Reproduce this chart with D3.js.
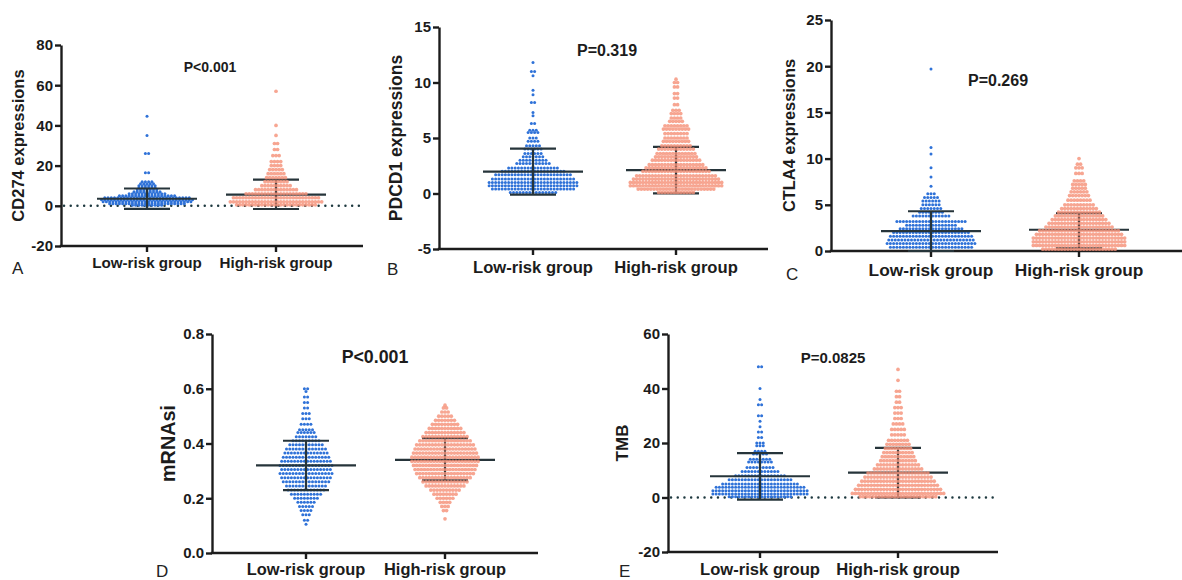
<!DOCTYPE html>
<html>
<head>
<meta charset="utf-8">
<script src="https://cdn.jsdelivr.net/npm/d3@7"></script>
<style>
  body { margin: 0; background: #fff; }
  svg { display: block; font-family: "Liberation Sans", Arial, sans-serif; }
  .tick text { font-weight: bold; font-size: 15px; fill: #1b1b1b; }
</style>
</head>
<body>
<div id="chart"></div>
<script>
/*
DATA
each swarm row: [value, number of dots in that row]
*/
const groups = ["Low-risk group", "High-risk group"];

const cd274Low = [[44.5,1],[35,1],[26,2],[16.5,2],[12,4],[11,5],[10,6],[9,6],[8,7],[7,9],[6,12],[5,18],[4,27],[3,29],[2,28],[1,24],[0.3,10]];
const cd274High = [[57,1],[40,1],[35,1],[31,2],[28,2],[25,3],[22,4],[20,4],[18,5],[16,6],[14,7],[12,8],[10,10],[8,14],[6,20],[4,28],[2,30],[0.5,26]];
const cd274Stats = [[3.5, 8.6, -1.5], [5.6, 13, -1.6]]; // mean, mean+SD, mean-SD

const pdcd1Low = [[11.8,1],[11,2],[10.6,1],[9.3,1],[8.9,1],[8.2,2],[7.3,1],[7,1],[6.3,2],[5.7,3],[5.5,4],[5,3],[4.7,4],[4.3,5],[4,6],[3.6,6],[3.3,7],[3,9],[2.7,11],[2.3,16],[2,20],[1.7,24],[1.3,26],[1,28],[0.7,28],[0.4,26],[0.1,15]];
const pdcd1High = [[10.3,1],[10,2],[9.6,2],[9,2],[8.6,2],[8,2],[7.5,3],[7.2,4],[6.8,4],[6.5,5],[6.1,8],[5.8,9],[5.4,8],[5,8],[4.7,9],[4.3,10],[4,12],[3.6,13],[3.3,14],[3,16],[2.6,18],[2.3,20],[2,22],[1.6,26],[1.3,28],[1,30],[0.7,30],[0.4,25],[0.1,12]];
const pdcd1Stats = [[1.97, 4.05, -0.1], [2.1, 4.2, 0.02]];

const ctla4Low = [[19.7,1],[11.2,1],[10.5,1],[9,1],[8,1],[7,1],[6.2,3],[5.8,5],[5.4,6],[5,6],[4.6,7],[4.2,8],[3.8,12],[3.2,22],[2.8,16],[2.4,20],[2,24],[1.6,26],[1.2,27],[0.8,28],[0.4,26]];
const ctla4High = [[10,1],[9.4,2],[9,3],[8.4,3],[7.6,4],[7.2,5],[6.8,5],[6.4,6],[6,7],[5.5,8],[5,10],[4.6,12],[4.2,14],[3.8,16],[3.4,18],[3,20],[2.6,22],[2.2,26],[1.8,28],[1.4,30],[1,30],[0.6,30],[0.2,24]];
const ctla4Stats = [[2.15, 4.3, 0], [2.3, 4.1, 0.3]];

const mrnasiLow = [[0.6,2],[0.59,1],[0.57,2],[0.55,2],[0.53,2],[0.51,3],[0.49,3],[0.47,4],[0.45,5],[0.44,6],[0.425,7],[0.41,9],[0.395,11],[0.38,13],[0.365,14],[0.35,15],[0.335,16],[0.32,17],[0.305,16],[0.29,17],[0.275,16],[0.26,15],[0.245,13],[0.23,12],[0.215,10],[0.2,8],[0.185,6],[0.17,5],[0.155,4],[0.14,3],[0.12,2],[0.105,1]];
const mrnasiHigh = [[0.54,1],[0.53,2],[0.515,3],[0.5,5],[0.485,7],[0.47,9],[0.455,11],[0.44,13],[0.425,15],[0.41,17],[0.395,19],[0.38,20],[0.365,21],[0.35,22],[0.335,22],[0.32,21],[0.305,20],[0.29,19],[0.275,17],[0.26,15],[0.245,13],[0.23,10],[0.215,8],[0.2,6],[0.185,4],[0.17,3],[0.155,2],[0.125,1]];
const mrnasiStats = [[0.32, 0.41, 0.23], [0.34, 0.42, 0.265]];

const tmbLow = [[48,2],[40,1],[36,1],[34,2],[30,2],[28,1],[26,1],[24,2],[22,2],[20,3],[19,3],[17,4],[16,5],[14,7],[13,8],[11,9],[9.5,12],[8,16],[6.5,20],[5,24],[3.8,28],[2.5,30],[1.3,30],[0.3,20]];
const tmbHigh = [[47,1],[43,1],[39,2],[37,2],[35,2],[33,3],[31,3],[29,3],[27,4],[25,5],[23,5],[21,7],[19.5,8],[18,9],[16.5,10],[15,11],[13.5,12],[12,14],[10.5,16],[9,20],[7.5,22],[6,24],[4.5,26],[3,28],[1.5,30],[0.3,25]];
const tmbStats = [[7.8, 16.3, -0.8], [9.1, 18.2, 0]];

const ticksA = [-20, 0, 20, 40, 60, 80];
const ticksB = [-5, 0, 5, 10, 15];
const ticksC = [0, 5, 10, 15, 20, 25];
const ticksD = [0, 0.2, 0.4, 0.6, 0.8];
const ticksE = [-20, 0, 20, 40, 60];

/*
PANEL LAYOUT
*/
const intFmt = d => String(d);
const panels = [
  { letter: "A", label: "CD274 expressions", p: "P<0.001", data: [cd274Low, cd274High], stats: cd274Stats,
    ticks: ticksA, fmt: intFmt, zeroLine: true,
    ax: 61, yTop: 45, yBot: 246, xEnd: 363, centers: [147, 276],
    labelX: 18, labelSize: 16.5, pX: 210, pY: 72, pSize: 14, catSize: 15.2, catY: 268, letterX: 12, letterY: 274 },
  { letter: "B", label: "PDCD1 expressions", p: "P=0.319", data: [pdcd1Low, pdcd1High], stats: pdcd1Stats,
    ticks: ticksB, fmt: intFmt, zeroLine: false,
    ax: 439, yTop: 27, yBot: 249, xEnd: 768, centers: [533, 676],
    labelX: 396, labelSize: 17.5, pX: 607, pY: 56, pSize: 16, catSize: 16.6, catY: 273, letterX: 387, letterY: 275 },
  { letter: "C", label: "CTLA4 expressions", p: "P=0.269", data: [ctla4Low, ctla4High], stats: ctla4Stats,
    ticks: ticksC, fmt: intFmt, zeroLine: false,
    ax: 831, yTop: 20, yBot: 251, xEnd: 1182, centers: [931, 1079],
    labelX: 789, labelSize: 16.4, pX: 998, pY: 86, pSize: 16, catSize: 17.3, catY: 276, letterX: 786, letterY: 280 },
  { letter: "D", label: "mRNAsi", p: "P<0.001", data: [mrnasiLow, mrnasiHigh], stats: mrnasiStats,
    ticks: ticksD, fmt: d3.format(".1f"), zeroLine: false,
    ax: 212, yTop: 334, yBot: 553, xEnd: 538, centers: [306, 445],
    labelX: 168, labelSize: 19.8, pX: 375, pY: 363, pSize: 17.8, catSize: 16.4, catY: 575, letterX: 156, letterY: 577 },
  { letter: "E", label: "TMB", p: "P=0.0825", data: [tmbLow, tmbHigh], stats: tmbStats,
    ticks: ticksE, fmt: intFmt, zeroLine: true,
    ax: 668, yTop: 334, yBot: 552, xEnd: 998, centers: [760, 898],
    labelX: 622, labelSize: 17, pX: 833, pY: 363, pSize: 15, catSize: 16.6, catY: 575, letterX: 619, letterY: 577 }
];

const W = 1182, H = 580;
const dotR = [1.5, 1.85], dotGap = [3.25, 3.15];
const ink = "#1c1c1c", barInk = "#26343a";
const dotFill = ["#2f72d8", "#f5937a"];

const svg = d3.select("#chart").append("svg").attr("width", W).attr("height", H);

function drawPanel(cfg) {
  const g = svg.append("g");
  const y = d3.scaleLinear()
    .domain(d3.extent(cfg.ticks))
    .range([cfg.yBot, cfg.yTop]);
  const x = d3.scaleOrdinal().domain(groups).range(cfg.centers);

  // y axis
  g.append("g")
    .attr("transform", `translate(${cfg.ax},0)`)
    .call(d3.axisLeft(y).tickValues(cfg.ticks).tickFormat(cfg.fmt).tickSize(6).tickSizeOuter(0).tickPadding(2))
    .call(a => a.selectAll("path, line").attr("stroke", ink).attr("stroke-width", 2.4));

  // x axis
  g.append("line")
    .attr("x1", cfg.ax - 1.2).attr("x2", cfg.xEnd)
    .attr("y1", cfg.yBot).attr("y2", cfg.yBot)
    .attr("stroke", ink).attr("stroke-width", 2.4);
  g.selectAll(".xtick").data(groups).join("line")
    .attr("x1", d => x(d)).attr("x2", d => x(d))
    .attr("y1", cfg.yBot).attr("y2", cfg.yBot + 6)
    .attr("stroke", ink).attr("stroke-width", 2.4);
  g.selectAll(".cat").data(groups).join("text")
    .attr("x", d => x(d)).attr("y", cfg.catY)
    .attr("text-anchor", "middle")
    .attr("font-weight", "bold").attr("font-size", cfg.catSize).attr("fill", ink)
    .text(d => d);

  if (cfg.zeroLine) {
    g.append("line")
      .attr("x1", cfg.ax + 3).attr("x2", cfg.xEnd)
      .attr("y1", y(0)).attr("y2", y(0))
      .attr("stroke", "#1f3a40").attr("stroke-width", 2.4)
      .attr("stroke-linecap", "round").attr("stroke-dasharray", "0.1,6.6");
  }

  // dots + mean/SD bars
  groups.forEach((grp, gi) => {
    const cx = x(grp);
    const pts = [];
    cfg.data[gi].forEach(([v, n]) => {
      for (let i = 0; i < n; i++) pts.push({ v: v, dx: (i - (n - 1) / 2) * dotGap[gi] });
    });

    const st = cfg.stats[gi];
    const bars = g.append("g").attr("stroke", barInk).attr("stroke-width", 2.2);
    const drawBars = sel => {
      sel.append("line").attr("x1", cx - 50).attr("x2", cx + 50).attr("y1", y(st[0])).attr("y2", y(st[0]));
      sel.append("line").attr("x1", cx - 23).attr("x2", cx + 23).attr("y1", y(st[1])).attr("y2", y(st[1]));
      sel.append("line").attr("x1", cx - 23).attr("x2", cx + 23).attr("y1", y(st[2])).attr("y2", y(st[2]));
      sel.append("line").attr("x1", cx).attr("x2", cx).attr("y1", y(st[1])).attr("y2", y(st[2]));
    };

    if (gi === 1) drawBars(bars);
    g.append("g").selectAll("circle").data(pts).join("circle")
      .attr("cx", d => cx + d.dx)
      .attr("cy", d => y(d.v))
      .attr("r", dotR[gi])
      .attr("fill", dotFill[gi])
      .attr("fill-opacity", gi === 0 ? 1 : 0.82);
    if (gi === 0) drawBars(bars.raise());
  });

  // labels
  g.append("text")
    .attr("transform", `translate(${cfg.labelX},${(cfg.yTop + cfg.yBot) / 2}) rotate(-90)`)
    .attr("text-anchor", "middle").attr("dy", "0.35em")
    .attr("font-weight", "bold").attr("font-size", cfg.labelSize).attr("fill", ink)
    .text(cfg.label);
  g.append("text")
    .attr("x", cfg.pX).attr("y", cfg.pY)
    .attr("text-anchor", "middle")
    .attr("font-weight", "bold").attr("font-size", cfg.pSize).attr("fill", ink)
    .text(cfg.p);
  g.append("text")
    .attr("x", cfg.letterX).attr("y", cfg.letterY)
    .attr("font-size", 17).attr("fill", "#222")
    .text(cfg.letter);
}

panels.forEach(drawPanel);
</script>
</body>
</html>
